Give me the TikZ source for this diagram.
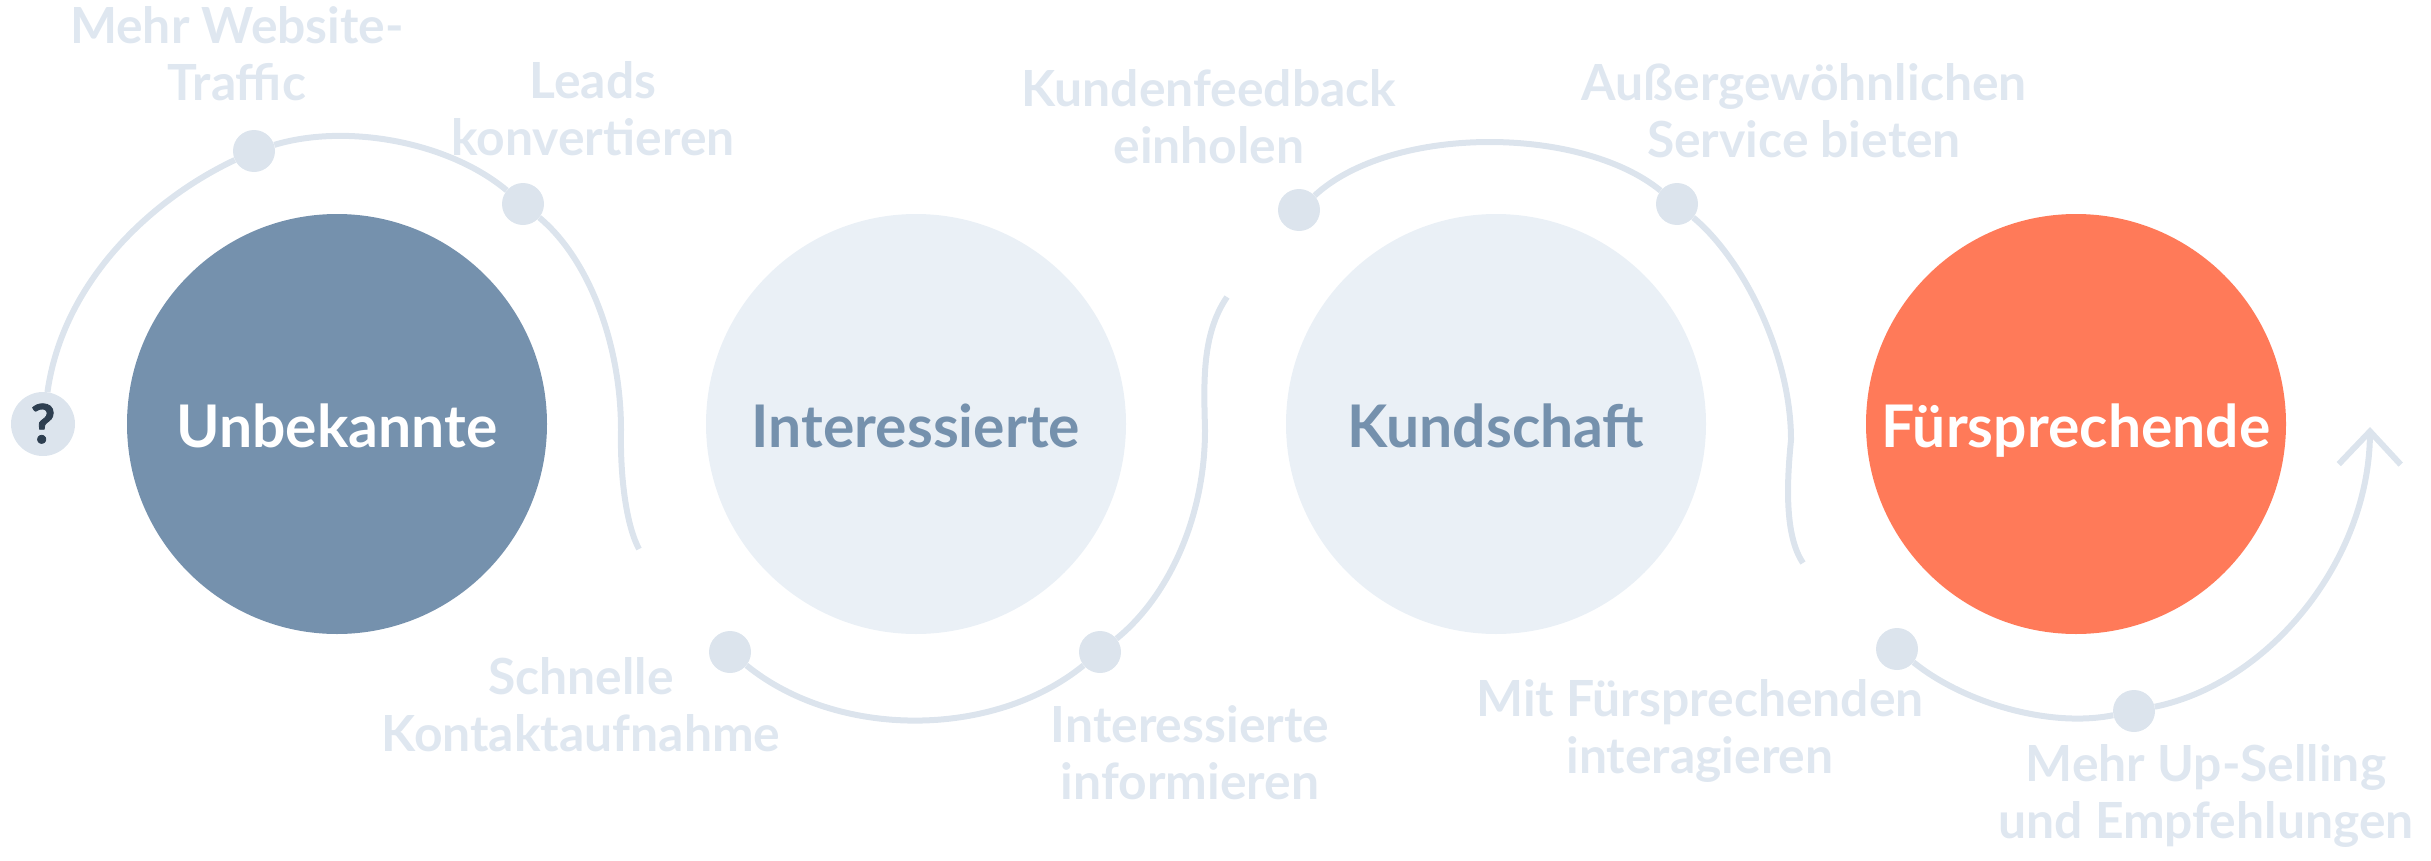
\documentclass[tikz,border=0pt]{standalone}
\usepackage{fontspec}
\setmainfont{Lato}
\usetikzlibrary{arrows.meta}
\definecolor{slate}{HTML}{7591AD}
\definecolor{mist}{HTML}{EAF0F6}
\definecolor{trail}{HTML}{DCE4ED}
\definecolor{caption}{HTML}{DFE7F0}
\definecolor{coral}{HTML}{FF7A59}
\definecolor{ink}{HTML}{2D3E50}
\tikzset{
  stage/.style={circle,minimum size=420bp,inner sep=0pt,text height=46bp,text depth=0bp,
    font=\fontsize{59}{70}\selectfont\bfseries},
  dot/.style={circle,fill=trail,minimum size=42bp,inner sep=0pt},
  note/.style={align=center,anchor=base,text=caption,font=\fontsize{50}{57}\selectfont\bfseries},
  track/.style={draw=trail,line width=6bp},
}
\begin{document}
\begin{tikzpicture}[>={Straight Barb[length=33bp,width=62bp]},line join=round]
\useasboundingbox (0bp,0bp) rectangle (2431bp,-861bp);
%%
\node (stage_1) at (337bp,-424bp) [stage,fill=slate,text=white] {Unbekannte};
  \node (stage_2) at (916bp,-424bp) [stage,fill=mist,text=slate] {Interessierte};
  \node (stage_3) at (1496bp,-424bp) [stage,fill=mist,text=slate] {Kundschaft};
  \node (stage_4) at (2076bp,-424bp) [stage,fill=coral,text=white] {Fürsprechende};
%
\node (start) at (43bp,-424bp) [dot,minimum size=64bp,text=ink,text height=38bp,text depth=0bp,
    font=\fontsize{54}{60}\selectfont\bfseries\addfontfeatures{FakeBold=1.5}] {?};
  \node (dot_1) at (254bp,-151bp) [dot] {};
  \node (dot_2) at (523bp,-204bp) [dot] {};
  \node (dot_3) at (730bp,-652bp) [dot] {};
  \node (dot_4) at (1100bp,-652bp) [dot] {};
  \node (dot_5) at (1299bp,-210bp) [dot] {};
  \node (dot_6) at (1677bp,-204bp) [dot] {};
  \node (dot_7) at (1897bp,-649bp) [dot] {};
  \node (dot_8) at (2134bp,-711bp) [dot] {};
  \coordinate (bend_1) at (621bp,-430bp);
  \coordinate (end_1) at (639bp,-549bp);
  \coordinate (bend_2) at (1205bp,-430bp);
  \coordinate (end_2) at (1227bp,-297bp);
  \coordinate (bend_3) at (1791bp,-440bp);
  \coordinate (end_3) at (1803bp,-563bp);
  \coordinate (goal) at (2370bp,-427bp);
%
\draw [track] (start) ..controls (63bp,-281bp) and (152bp,-199bp) .. (dot_1)
  ..controls (347bp,-123bp) and (449bp,-142bp) .. (dot_2)
  ..controls (589bp,-259bp) and (621bp,-344bp) .. (bend_1)
  ..controls (620bp,-480bp) and (627bp,-527bp) .. (end_1);
  \draw [track] (dot_3) ..controls (837bp,-739bp) and (993bp,-739bp) .. (dot_4)
  ..controls (1168bp,-597bp) and (1205bp,-518bp) .. (bend_2)
  ..controls (1204bp,-385bp) and (1201bp,-335bp) .. (end_2);
  \draw [track] (dot_5) ..controls (1391bp,-125bp) and (1580bp,-125bp) .. (dot_6)
  ..controls (1743bp,-259bp) and (1791bp,-354bp) .. (bend_3)
  ..controls (1787bp,-480bp) and (1784bp,-535bp) .. (end_3);
  \draw [track,->] (dot_7) ..controls (1964bp,-703bp) and (2050bp,-728bp) .. (dot_8)
  ..controls (2270bp,-683bp) and (2369bp,-560bp) .. (goal);
%
\node (note_1) at (237bp,-100bp) [note] {Mehr Website-\\Traffic};
  \node (note_2) at (593bp,-155bp) [note] {Leads\\konvertieren};
  \node (note_3) at (581bp,-751bp) [note] {Schnelle\\Kontaktaufnahme};
  \node (note_4) at (1190bp,-799bp) [note] {Interessierte\\informieren};
  \node (note_5) at (1209bp,-163bp) [note] {Kundenfeedback\\einholen};
  \node (note_6) at (1804bp,-157bp) [note] {Außergewöhnlichen\\Service bieten};
  \node (note_7) at (1700bp,-773bp) [note] {Mit Fürsprechenden\\interagieren};
  \node (note_8) at (2206bp,-838bp) [note] {Mehr Up-Selling\\und Empfehlungen};
%
\end{tikzpicture}
\end{document}
